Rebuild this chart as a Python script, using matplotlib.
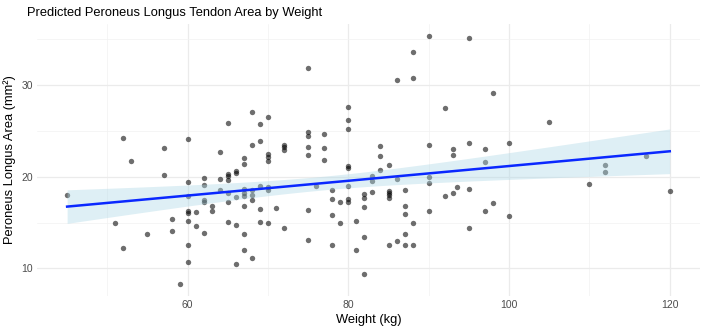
import numpy as np
import matplotlib
matplotlib.use("Agg")
import matplotlib.pyplot as plt

plt.rcParams['font.family'] = ['Liberation Sans', 'DejaVu Sans']

# weight (kg) and peroneus longus area (mm^2)
weight = [45, 51, 52, 52, 53, 55, 57, 57, 58, 58, 59,
          60, 60, 60, 60, 60, 60, 60, 60,
          61, 61, 62, 62, 62, 62, 62, 63, 63, 64, 64, 64,
          65, 65, 65, 65, 65, 65, 65,
          66, 66, 66, 66, 66,
          67, 67, 67, 67, 67, 67, 67, 67,
          68, 68, 68, 68, 68, 68,
          69, 69, 69, 69, 69,
          70, 70, 70, 70, 70, 70, 70, 71,
          72, 72, 72, 72,
          75, 75, 75, 75, 75, 75, 75, 76, 77, 77, 77,
          78, 78, 78, 78, 79, 79,
          80, 80, 80, 80, 80, 80, 80, 80,
          81, 81, 82, 82, 82, 82, 82, 83, 83, 83, 84, 84, 84,
          85, 85, 85, 85, 85, 85, 86, 86, 86,
          87, 87, 87, 87, 87, 88, 88, 88, 88,
          90, 90, 90, 90, 90, 92, 92, 93, 93, 93, 93.5,
          95, 95, 95, 95, 97, 97, 97, 98, 98, 100, 100,
          105, 110, 112, 112, 117, 120]
area = [18.0, 14.9, 24.2, 12.2, 21.7, 13.8, 23.15, 20.15, 15.4, 14.1, 8.35,
        24.1, 19.4, 17.9, 16.3, 16.0, 15.15, 12.6, 10.65,
        16.1, 14.6, 19.85, 19.1, 17.5, 17.2, 13.9, 16.8, 16.3, 22.65, 19.7, 18.55,
        25.8, 20.3, 20.1, 19.65, 18.2, 17.2, 15.1,
        20.6, 20.35, 17.8, 14.7, 10.5,
        22.0, 21.4, 18.6, 18.25, 17.9, 16.85, 13.7, 12.0,
        27.0, 23.45, 18.55, 18.0, 17.4, 11.1,
        25.7, 23.9, 19.0, 16.5, 15.1,
        26.5, 22.5, 22.1, 21.7, 18.9, 18.5, 15.0, 16.55,
        23.45, 23.25, 22.9, 14.4,
        31.8, 24.8, 24.45, 23.25, 22.35, 16.4, 13.15, 18.95, 24.6, 23.15, 21.8,
        18.55, 17.6, 15.8, 12.55, 17.2, 15.0,
        27.6, 26.2, 25.15, 21.15, 20.95, 19.0, 17.6, 17.2,
        15.2, 12.0, 18.1, 17.65, 16.7, 13.4, 9.4, 20.1, 19.55, 18.3, 23.3, 22.2, 20.75,
        21.3, 18.45, 18.2, 17.95, 17.65, 12.5, 30.5, 19.7, 13.0,
        18.55, 16.75, 15.95, 13.7, 12.6, 33.55, 30.7, 15.0, 12.55,
        35.3, 23.4, 20.0, 19.3, 16.2, 27.5, 17.85, 23.0, 22.4, 18.2, 18.85,
        35.1, 23.6, 18.6, 14.35, 22.95, 21.6, 16.2, 29.05, 17.1, 23.65, 15.75,
        25.9, 19.2, 21.3, 20.5, 22.2, 18.4]

x = np.array(weight, dtype=float)
y = np.array(area, dtype=float)

# linear fit with 95% confidence band (like geom_smooth(method="lm"))
n = len(x)
slope, intercept = np.polyfit(x, y, 1)
xs = np.linspace(x.min(), x.max(), 80)
pred = intercept + slope * xs
resid = y - (intercept + slope * x)
s = np.sqrt(np.sum(resid ** 2) / (n - 2))
sxx = np.sum((x - x.mean()) ** 2)
se = s * np.sqrt(1.0 / n + (xs - x.mean()) ** 2 / sxx)
tval = 1.975
lo = pred - tval * se
hi = pred + tval * se

fig = plt.figure(figsize=(7.02, 3.32), dpi=100)
ax = fig.add_axes([0.0527, 0.1084, 0.9443, 0.8206])

ax.scatter(x, y, s=15, color="black", alpha=0.57, linewidths=0, zorder=3)
ax.fill_between(xs, lo, hi, color="lightblue", alpha=0.4, linewidth=0, zorder=4)
ax.plot(xs, pred, color="#0a28ff", lw=1.8, zorder=5)

xr = x.max() - x.min()
yr = y.max() - y.min()
ax.set_xlim(x.min() - 0.05 * xr, x.max() + 0.05 * xr)
ax.set_ylim(y.min() - 0.05 * yr, y.max() + 0.05 * yr)

ax.set_xticks([60, 80, 100, 120])
ax.set_xticks([50, 70, 90, 110], minor=True)
ax.set_yticks([10, 20, 30])
ax.set_yticks([15, 25, 35], minor=True)
ax.grid(which="major", color="#ebebeb", lw=0.9)
ax.grid(which="minor", color="#f2f2f2", lw=0.5)
ax.set_axisbelow(True)
for sp in ax.spines.values():
    sp.set_visible(False)
ax.tick_params(which="both", length=0, labelsize=7.5, labelcolor="#4d4d4d", pad=3)

ax.set_xlabel("Weight (kg)", fontsize=9.3, color="black", labelpad=3)
ax.set_ylabel("Peroneus Longus Area (mm²)", fontsize=9.3, color="black", labelpad=4)
fig.text(0.039, 0.98, "Predicted Peroneus Longus Tendon Area by Weight",
         fontsize=9.3, ha="left", va="top")

fig.savefig("out.png", dpi=100)
